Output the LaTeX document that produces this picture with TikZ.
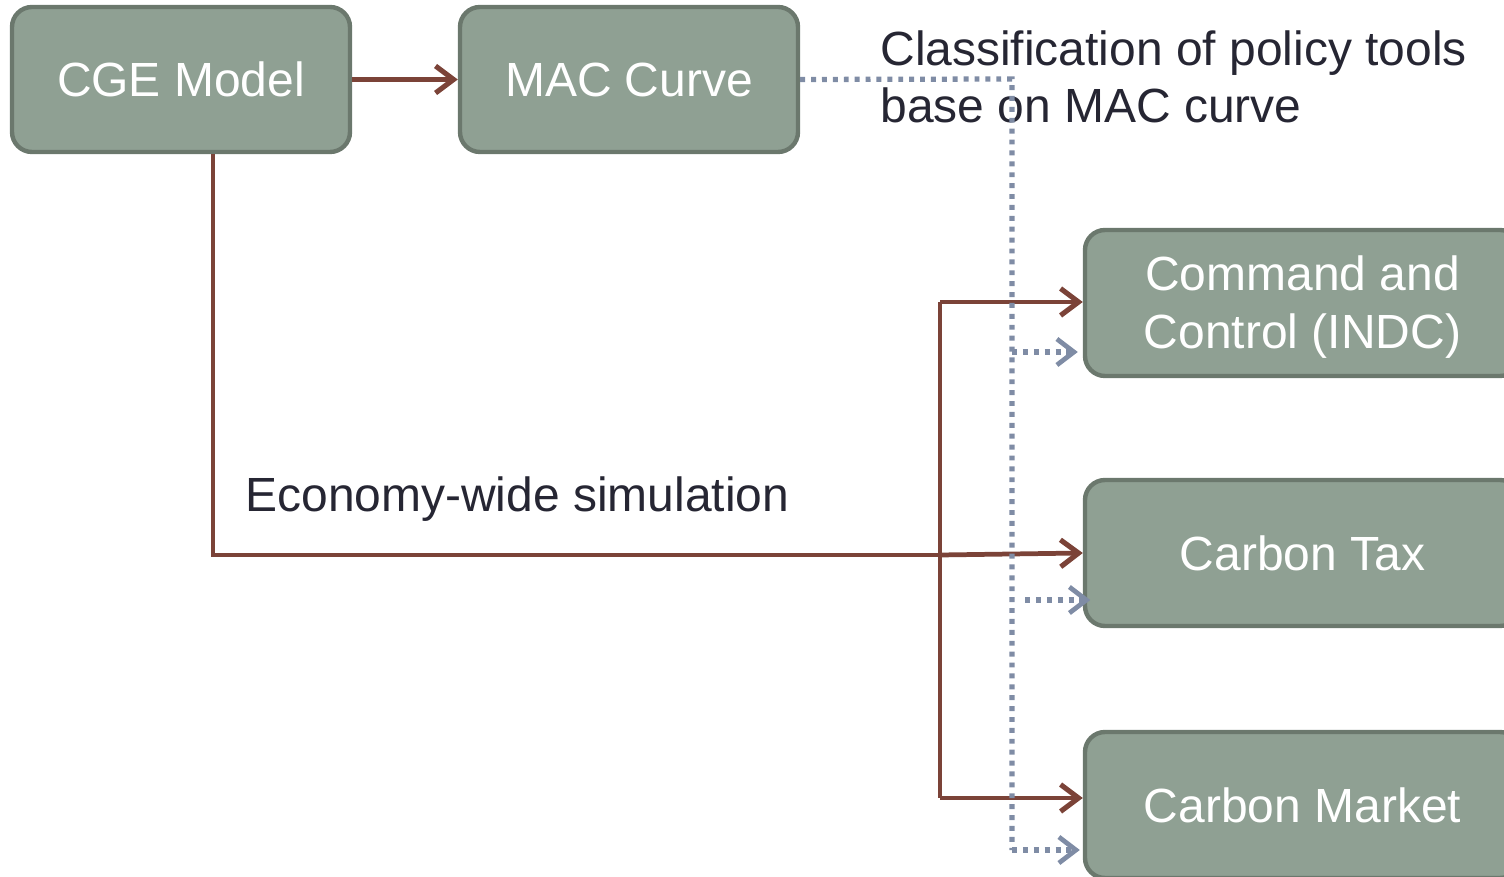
\documentclass[tikz,border=0pt]{standalone}
\usepackage{fontspec}
\setmainfont{Liberation Sans}
\usetikzlibrary{arrows.meta,calc}
\definecolor{boxfill}{HTML}{8FA093}
\definecolor{boxdraw}{HTML}{6B786D}
\definecolor{brownline}{HTML}{7B4338}
\definecolor{dotline}{HTML}{7F8CA5}
\definecolor{darktext}{HTML}{262633}
\tikzset{
  box/.style={draw=boxdraw, fill=boxfill, line width=2.5pt, rounded corners=0.4cm,
    text=white, align=center, inner sep=0pt, font=\fontsize{27.3}{32.6}\selectfont},
  label text/.style={text=darktext, inner sep=0pt, align=left, font=\fontsize{27.3}{32.6}\selectfont},
  brownarrow/.style={draw=brownline, line width=2.7pt, -{Straight Barb[length=3.6mm,width=5.4mm,line width=2.9pt]}},
  brownplain/.style={draw=brownline, line width=2.7pt},
  dotarrow/.style={draw=dotline, line width=3pt, dash pattern=on 2.8pt off 3.4pt,
    -{Straight Barb[length=3.4mm,width=5.2mm,line width=2.7pt]}},
}
\begin{document}
\begin{tikzpicture}
\useasboundingbox (0,0) rectangle (30.08,17.52);
\clip (0,0) rectangle (30.08,17.52);
% boxes
\node[box, minimum width=6.76cm, minimum height=2.9cm] (cge) at (3.62,15.93) {CGE Model};
\node[box, minimum width=6.76cm, minimum height=2.9cm] (mac) at (12.58,15.93) {MAC Curve};
\node[box, minimum width=8.7cm, minimum height=2.92cm] (cmd) at (26.05,11.46) {\rule{0pt}{0.86cm}Command and\\Control (INDC)};
\node[box, minimum width=8.7cm, minimum height=2.92cm] (tax) at (26.05,6.46) {Carbon Tax};
\node[box, minimum width=8.7cm, minimum height=2.92cm] (market) at (26.05,1.42) {Carbon Market};
% texts
\node[label text, anchor=north west] (cls) at (17.6,16.92) {Classification of policy tools\\base on MAC curve};
\node[label text, anchor=base west] (eco) at (4.9,7.28) {Economy-wide simulation};
% junctions
\coordinate (j1) at (4.26,6.42);
\coordinate (jt) at (18.8,11.48);
\coordinate (jb) at (18.8,1.56);
\coordinate (dcorner) at (20.24,15.94);
\coordinate (d1) at (20.24,10.48);
\coordinate (d2) at (20.5,5.52);
\coordinate (d3) at (20.24,0.52);
% brown connectors
\draw[brownarrow] (cge.east) -- (mac.west);
\draw[brownplain] (cge.south -| j1) -- (j1) -- (jt |- j1);
\draw[brownarrow] (jt |- j1) -- (tax.west);
\draw[brownplain] (jt) -- (jb);
\draw[brownarrow] (jt) -- (jt -| cmd.west);
\draw[brownarrow] (jb) -- (jb -| market.west);
% dotted connectors
\draw[dotarrow, -] (mac.east) -- (dcorner) -- (d3);
\draw[dotarrow] (d1) -- ($(d1 -| cmd.west)+(-0.1,0)$);
\draw[dotarrow] (d2) -- ($(d2 -| tax.west)+(0.15,0)$);
\draw[dotarrow] (d3) -- ($(d3 -| market.west)+(-0.06,0)$);
\end{tikzpicture}
\end{document}
